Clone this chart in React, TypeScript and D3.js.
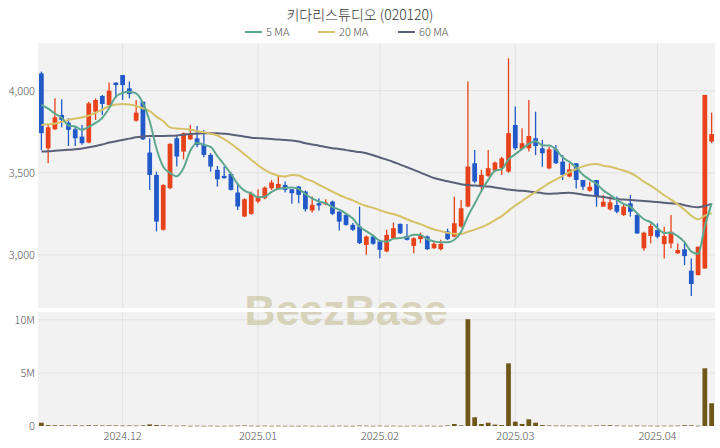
import React, { useEffect, useRef } from "react";
import * as d3 from "d3";

// trading days shown on the chart, per month
const tradingDays: [string, number[]][] = [
  ["2024-11", [14, 15, 18, 19, 20, 21, 22, 25, 26, 27, 28, 29]],
  ["2024-12", [2, 3, 4, 5, 6, 9, 10, 11, 12, 13, 16, 17, 18, 19, 20, 23, 24, 26, 27, 30]],
  ["2025-01", [2, 3, 6, 7, 8, 9, 10, 13, 14, 15, 16, 17, 20, 21, 22, 23, 24, 31]],
  ["2025-02", [3, 4, 5, 6, 7, 10, 11, 12, 13, 14, 17, 18, 19, 20, 21, 24, 25, 26, 27, 28]],
  ["2025-03", [3, 4, 5, 6, 7, 10, 11, 12, 13, 14, 17, 18, 19, 20, 21, 24, 25, 26, 27, 28, 31]],
  ["2025-04", [1, 2, 3, 4, 7, 8, 9, 10, 11]],
];
const dates: string[] = tradingDays.flatMap(([m, ds]) =>
  ds.map((d) => `${m}-${String(d).padStart(2, "0")}`)
);

const monthTicks = ["2024-12-02", "2025-01-02", "2025-02-03", "2025-03-03", "2025-04-01"];
const monthLabels = ["2024.12", "2025.01", "2025.02", "2025.03", "2025.04"];

const opens = [
  4105, 3649, 3765, 3852, 3805, 3765, 3720, 3684, 3872, 3968,
  3913, 4049, 4095, 4014, 3817, 3933, 3623, 3487, 3153, 3406,
  3710, 3629, 3704, 3710, 3670, 3609, 3518, 3481, 3493, 3380,
  3234, 3250, 3325, 3345, 3406, 3402, 3426, 3400, 3416, 3386,
  3270, 3315, 3307, 3325, 3264, 3244, 3183, 3173, 3061, 3112,
  3082, 3021, 3102, 3189, 3116, 3055, 3096, 3112, 3041, 3035,
  3143, 3112, 3173, 3295, 3558, 3416, 3481, 3514, 3528, 3507,
  3791, 3645, 3649, 3710, 3649, 3527, 3643, 3568, 3477, 3558,
  3456, 3391, 3456, 3294, 3278, 3304, 3243, 3314, 3243, 3040,
  3115, 3151, 3066, 3070, 3010, 3034, 2904, 2877, 2917, 3690,
];
const highs = [
  4116, 3791, 3953, 3947, 3832, 3785, 3791, 3933, 3953, 3974,
  4049, 4049, 4095, 4055, 3943, 3933, 3710, 3507, 3430, 3680,
  3730, 3745, 3791, 3785, 3761, 3619, 3542, 3538, 3501, 3436,
  3345, 3386, 3400, 3416, 3457, 3487, 3447, 3400, 3420, 3392,
  3355, 3345, 3339, 3331, 3264, 3254, 3195, 3294, 3118, 3122,
  3087, 3153, 3197, 3192, 3189, 3107, 3136, 3118, 3082, 3092,
  3160, 3355, 3335, 4055, 3639, 3518, 3639, 3568, 3598, 4197,
  3903, 3771, 3943, 3872, 3700, 3659, 3669, 3608, 3558, 3558,
  3456, 3446, 3456, 3365, 3355, 3355, 3314, 3365, 3253, 3141,
  3192, 3192, 3172, 3243, 3070, 3074, 2979, 3050, 3974, 3866,
];
const lows = [
  3639, 3558, 3761, 3777, 3663, 3663, 3670, 3680, 3822, 3852,
  3903, 3953, 3943, 3953, 3811, 3700, 3396, 3143, 3148, 3400,
  3538, 3582, 3700, 3655, 3595, 3507, 3416, 3465, 3392, 3274,
  3230, 3244, 3315, 3339, 3396, 3400, 3380, 3311, 3315, 3264,
  3258, 3270, 3303, 3242, 3149, 3178, 3145, 3066, 3001, 3062,
  2980, 3016, 3097, 3128, 3088, 3011, 3072, 3030, 3036, 3027,
  3090, 3108, 3165, 3290, 3436, 3386, 3476, 3508, 3487, 3500,
  3639, 3640, 3629, 3608, 3537, 3521, 3553, 3456, 3472, 3405,
  3395, 3385, 3294, 3294, 3270, 3253, 3237, 3233, 3127, 3026,
  3070, 3101, 2979, 3040, 3005, 2938, 2750, 2877, 2917, 3680,
];
const closes = [
  3741, 3777, 3838, 3822, 3761, 3710, 3680, 3923, 3943, 3919,
  4000, 4034, 4034, 3980, 3866, 3704, 3487, 3203, 3426, 3676,
  3599, 3741, 3730, 3670, 3609, 3538, 3461, 3467, 3396, 3295,
  3339, 3372, 3355, 3410, 3441, 3432, 3396, 3376, 3366, 3278,
  3305, 3301, 3319, 3250, 3203, 3183, 3153, 3072, 3112, 3068,
  3031, 3122, 3163, 3132, 3092, 3102, 3116, 3035, 3068, 3068,
  3096, 3193, 3284, 3538, 3447, 3487, 3528, 3562, 3588, 3741,
  3649, 3680, 3724, 3663, 3619, 3643, 3558, 3487, 3521, 3456,
  3415, 3415, 3355, 3324, 3320, 3263, 3294, 3263, 3131, 3135,
  3176, 3111, 3115, 3141, 3030, 2993, 2823, 3050, 3974, 3736,
];
const volumes = [
  310000, 80000, 70000, 60000, 50000, 60000, 40000, 70000, 60000, 50000,
  60000, 50000, 40000, 50000, 40000, 60000, 150000, 90000, 60000, 40000,
  30000, 40000, 20000, 30000, 20000, 30000, 20000, 20000, 30000, 40000,
  50000, 30000, 20000, 30000, 20000, 30000, 20000, 20000, 20000, 30000,
  20000, 20000, 20000, 20000, 30000, 20000, 20000, 40000, 30000, 20000,
  30000, 20000, 30000, 20000, 20000, 30000, 20000, 30000, 20000, 20000,
  50000, 190000, 60000, 10050000, 820000, 190000, 310000, 130000, 90000, 5900000,
  410000, 190000, 630000, 310000, 90000, 50000, 40000, 40000, 30000, 40000,
  30000, 30000, 50000, 60000, 70000, 40000, 30000, 30000, 40000, 30000,
  30000, 20000, 30000, 30000, 40000, 70000, 60000, 30000, 5430000, 2140000,
];

// moving-average values before a full window exists
const ma5Head = [3913, 3890, 3860, 3835];
const ma20Head = [
  3791, 3795, 3800, 3810, 3822, 3830, 3838, 3848, 3865, 3885,
  3905, 3916, 3919, 3915, 3907, 3893, 3875, 3842, 3815,
];
const ma60 = [
  3629, 3631, 3634, 3637, 3640, 3643, 3648, 3655, 3663, 3672,
  3684, 3692, 3700, 3708, 3716, 3721, 3724, 3724, 3724, 3725,
  3727, 3732, 3736, 3738, 3740, 3741, 3740, 3737, 3733, 3727,
  3720, 3714, 3711, 3708, 3705, 3702, 3700, 3696, 3690, 3680,
  3672, 3665, 3657, 3650, 3645, 3638, 3632, 3626, 3619, 3607,
  3593, 3580, 3566, 3550, 3534, 3518, 3501, 3484, 3468, 3458,
  3448, 3439, 3430, 3425, 3422, 3419, 3416, 3411, 3405, 3398,
  3393, 3390, 3386, 3381, 3376, 3372, 3374, 3377, 3379, 3374,
  3367, 3362, 3357, 3352, 3346, 3340, 3337, 3334, 3331, 3328,
  3325, 3322, 3318, 3314, 3311, 3303, 3294, 3290, 3298, 3311,
];

const priceTicks = [3000, 3500, 4000];
const volumeTicks = [0, 5000000, 10000000];
const volumeLabels = ["0", "5M", "10M"];

const movingAverage = (head: number[], n: number) =>
  closes.map((_, i) => (i < n - 1 ? head[i] : d3.mean(closes.slice(i - n + 1, i + 1)) as number));

const UP = "#e8421b";
const DOWN = "#2159c8";
const FONT = "'Noto Sans CJK KR', 'Noto Sans', sans-serif";

export default function App() {
  const svgRef = useRef<SVGSVGElement | null>(null);

  useEffect(() => {
    const width = 720;
    const height = 448;
    const left = 38;
    const right = 715;
    const priceTop = 43;
    const priceBottom = 308;
    const volTop = 312;
    const volBottom = 426;

    const svg = d3.select(svgRef.current).attr("width", width).attr("height", height);
    svg.selectAll("*").remove();

    const x = d3.scaleBand<string>().domain(dates).range([left, right]).paddingInner(0.3).paddingOuter(0.15);
    const cx = (d: string) => (x(d) as number) + x.bandwidth() / 2;
    const y = d3.scaleLinear().domain([2677, 4290]).range([priceBottom, priceTop]);
    const yv = d3.scaleLinear().domain([0, 10730000]).range([volBottom, volTop]);

    // panels
    svg.append("rect").attr("x", left).attr("y", priceTop).attr("width", right - left)
      .attr("height", priceBottom - priceTop).attr("fill", "#f2f2f2");
    svg.append("rect").attr("x", left).attr("y", volTop).attr("width", right - left)
      .attr("height", volBottom - volTop).attr("fill", "#f2f2f2");

    const grid = svg.append("g").attr("stroke", "#e2e2e2").attr("stroke-width", 1);
    priceTicks.forEach((t) => {
      grid.append("line").attr("x1", left).attr("x2", right).attr("y1", y(t)).attr("y2", y(t));
    });
    volumeTicks.slice(1).forEach((t) => {
      grid.append("line").attr("x1", left).attr("x2", right).attr("y1", yv(t)).attr("y2", yv(t));
    });
    monthTicks.forEach((d) => {
      grid.append("line").attr("x1", cx(d)).attr("x2", cx(d)).attr("y1", priceTop).attr("y2", priceBottom);
      grid.append("line").attr("x1", cx(d)).attr("x2", cx(d)).attr("y1", volTop).attr("y2", volBottom);
    });

    // watermark, cut by the white gap between the panels
    svg.append("text").attr("x", 346).attr("y", 325).attr("text-anchor", "middle")
      .attr("font-family", "'Liberation Sans', Arial, sans-serif").attr("font-weight", 700)
      .attr("font-size", 43).attr("fill", "#d5cfb4").attr("opacity", 0.9).text("BeezBase");
    svg.append("rect").attr("x", left).attr("y", priceBottom).attr("width", right - left)
      .attr("height", volTop - priceBottom).attr("fill", "#fff");

    // volume
    svg.append("g").selectAll("rect").data(dates).enter().append("rect")
      .attr("x", (d) => x(d) as number)
      .attr("y", (_, i) => yv(volumes[i]))
      .attr("width", x.bandwidth())
      .attr("height", (_, i) => Math.max(0.6, volBottom - yv(volumes[i])))
      .attr("fill", "#6e5719");

    // candles
    const candles = svg.append("g").selectAll("g").data(dates).enter().append("g")
      .attr("fill", (_, i) => (closes[i] >= opens[i] ? UP : DOWN))
      .attr("stroke", (_, i) => (closes[i] >= opens[i] ? UP : DOWN));
    candles.append("line")
      .attr("x1", (d) => cx(d)).attr("x2", (d) => cx(d))
      .attr("y1", (_, i) => y(highs[i])).attr("y2", (_, i) => y(lows[i]))
      .attr("stroke-width", 1.3);
    candles.append("rect")
      .attr("x", (d) => x(d) as number)
      .attr("y", (_, i) => y(Math.max(opens[i], closes[i])))
      .attr("width", x.bandwidth())
      .attr("height", (_, i) => Math.max(1, Math.abs(y(opens[i]) - y(closes[i]))))
      .attr("stroke", "none");

    // moving averages
    const ma5 = movingAverage(ma5Head, 5);
    const ma20 = movingAverage(ma20Head, 20);
    const lineOf = (vals: number[]) =>
      d3.line<string>().x((d) => cx(d)).y((_, i) => y(vals[i])).curve(d3.curveMonotoneX)(dates);
    const maLines: [number[], string][] = [
      [ma60, "#5b6079"],
      [ma20, "#d6c166"],
      [ma5, "#5ea78f"],
    ];
    maLines.forEach(([vals, color]) => {
      svg.append("path").attr("d", lineOf(vals) as string).attr("fill", "none")
        .attr("stroke", color).attr("stroke-width", 2);
    });

    // axes labels
    const labels = svg.append("g").attr("font-family", FONT).attr("font-size", 11)
      .attr("font-weight", 300).attr("fill", "#555");
    priceTicks.forEach((t) => {
      labels.append("text").attr("x", 35).attr("y", y(t) + 4).attr("text-anchor", "end").text(d3.format(",")(t));
    });
    volumeTicks.forEach((t, i) => {
      labels.append("text").attr("x", 35).attr("y", yv(t) + 4).attr("text-anchor", "end").text(volumeLabels[i]);
    });
    monthTicks.forEach((d, i) => {
      labels.append("text").attr("x", cx(d)).attr("y", 440).attr("text-anchor", "middle").text(monthLabels[i]);
    });

    // title and legend
    svg.append("text").attr("x", 360).attr("y", 20).attr("text-anchor", "middle")
      .attr("font-family", FONT).attr("font-size", 14).attr("font-weight", 300).attr("fill", "#333")
      .text("키다리스튜디오 (020120)");
    const legend: [string, string, number][] = [
      ["5 MA", "#5ea78f", 245],
      ["20 MA", "#d6c166", 318],
      ["60 MA", "#5b6079", 398],
    ];
    legend.forEach(([name, color, lx]) => {
      svg.append("line").attr("x1", lx).attr("x2", lx + 17).attr("y1", 32).attr("y2", 32)
        .attr("stroke", color).attr("stroke-width", 2);
      svg.append("text").attr("x", lx + 21).attr("y", 36).attr("font-family", FONT)
        .attr("font-size", 11).attr("font-weight", 300).attr("fill", "#555").text(name);
    });
  }, []);

  return (
    <div style={{ position: "absolute", left: 0, top: 0 }}>
      <svg ref={svgRef} style={{ display: "block" }} />
    </div>
  );
}
